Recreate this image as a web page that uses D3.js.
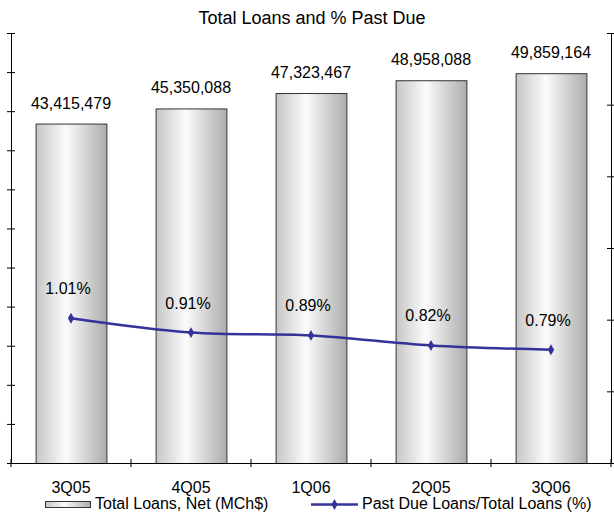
<!DOCTYPE html>
<html>
<head>
<meta charset="utf-8">
<script src="https://cdn.jsdelivr.net/npm/d3@7"></script>
<style>
  html, body { margin: 0; padding: 0; background: #fff; }
  svg { display: block; font-family: "Liberation Sans", Arial, sans-serif; }
</style>
</head>
<body>
<script>
const categories = ["3Q05", "4Q05", "1Q06", "2Q05", "3Q06"];
const totalLoans = [43415479, 45350088, 47323467, 48958088, 49859164];
const pastDuePct = [1.01, 0.91, 0.89, 0.82, 0.79];
const loanLabels = ["43,415,479", "45,350,088", "47,323,467", "48,958,088", "49,859,164"];
const pctLabels = ["1.01%", "0.91%", "0.89%", "0.82%", "0.79%"];
const leftTicks = d3.range(0, 55000001, 5000000);
const rightTicks = [0, 0.5, 1, 1.5, 2, 2.5, 3];
const title = "Total Loans and % Past Due";
const legendBar = "Total Loans, Net (MCh$)";
const legendLine = "Past Due Loans/Total Loans (%)";

const W = 614, H = 519;
const pL = 11, pR = 611, pT = 33, pB = 463;

const svg = d3.select("body").append("svg").attr("width", W).attr("height", H);

const defs = svg.append("defs");
const grad = defs.append("linearGradient").attr("id", "barGrad")
  .attr("x1", "0%").attr("x2", "100%").attr("y1", "0%").attr("y2", "0%");
grad.append("stop").attr("offset", "0%").attr("stop-color", "#c6c6c6");
grad.append("stop").attr("offset", "42%").attr("stop-color", "#fbfbfb");
grad.append("stop").attr("offset", "100%").attr("stop-color", "#acacac");

const x = d3.scaleBand().domain(categories).range([pL, pR])
  .paddingInner(0.41).paddingOuter(0.205);
const xOuter = d3.scaleBand().domain(categories).range([pL, pR]);
const yL = d3.scaleLinear().domain([0, 55000000]).range([pB, pT]);
const yR = d3.scaleLinear().domain([0, 3]).range([pB, pT]);

// title
svg.append("text").attr("x", 312).attr("y", 24).attr("text-anchor", "middle")
  .attr("font-size", 18).attr("fill", "#000").text(title);

// bars
svg.append("g").selectAll("rect").data(totalLoans).join("rect")
  .attr("x", (d, i) => x(categories[i]) + 0.5)
  .attr("y", d => yL(d) + 0.5)
  .attr("width", x.bandwidth())
  .attr("height", d => pB - yL(d))
  .attr("fill", "url(#barGrad)")
  .attr("stroke", "#333").attr("stroke-width", 1);

// bar labels
svg.append("g").selectAll("text").data(totalLoans).join("text")
  .attr("x", (d, i) => x(categories[i]) + x.bandwidth() / 2)
  .attr("y", d => yL(d) - 15)
  .attr("text-anchor", "middle").attr("font-size", 16).attr("fill", "#000")
  .text((d, i) => loanLabels[i]);

// left axis
const gL = svg.append("g").attr("transform", `translate(${pL},0)`)
  .call(d3.axisLeft(yL).tickValues(leftTicks).tickSize(4).tickFormat(""));
gL.selectAll(".tick line").attr("x2", 4).attr("x1", -4);
// right axis
const gR = svg.append("g").attr("transform", `translate(${pR},0)`)
  .call(d3.axisRight(yR).tickValues(rightTicks).tickSize(4).tickFormat(""));
gR.selectAll(".tick line").attr("x1", -4).attr("x2", 3);
// bottom axis
const bounds = categories.map(c => xOuter(c)).concat([pR]);
const gB = svg.append("g").attr("transform", `translate(0,${pB})`)
  .call(d3.axisBottom(xOuter).tickSize(0).tickFormat(""));
gB.selectAll(".tick").remove();
gB.selectAll("line.bt").data(bounds).join("line").attr("class", "bt")
  .attr("x1", d => d).attr("x2", d => d).attr("y1", -4).attr("y2", 4)
  .attr("stroke", "#000");
[gL, gR, gB].forEach(g => { g.select(".domain").attr("stroke", "#000"); g.selectAll("line").attr("stroke", "#000"); });

// category labels
svg.append("g").selectAll("text").data(categories).join("text")
  .attr("x", d => xOuter(d) + xOuter.bandwidth() / 2)
  .attr("y", 493)
  .attr("text-anchor", "middle").attr("font-size", 16).attr("fill", "#000")
  .text(d => d);

// line
const pts = pastDuePct.map((v, i) => [x(categories[i]) + x.bandwidth() / 2, yR(v)]);
svg.append("path").datum(pts)
  .attr("d", d3.line().curve(d3.curveCatmullRom.alpha(0.5)))
  .attr("fill", "none").attr("stroke", "#333399").attr("stroke-width", 2.5);
const diamond = d3.symbol().type(d3.symbolDiamond).size(34);
svg.append("g").selectAll("path").data(pts).join("path")
  .attr("transform", d => `translate(${d[0]},${d[1]})`)
  .attr("d", diamond).attr("fill", "#333399");

// pct labels
svg.append("g").selectAll("text").data(pastDuePct).join("text")
  .attr("x", (d, i) => pts[i][0] - 3)
  .attr("y", d => yR(d) - 24)
  .attr("text-anchor", "middle").attr("font-size", 16).attr("fill", "#000")
  .text((d, i) => pctLabels[i]);

// legend
const lg = svg.append("g");
lg.append("rect").attr("x", 45.5).attr("y", 501.5).attr("width", 45).attr("height", 6)
  .attr("fill", "url(#barGrad)").attr("stroke", "#333");
lg.append("text").attr("x", 95).attr("y", 509).attr("font-size", 16).attr("fill", "#000").text(legendBar);
lg.append("line").attr("x1", 311).attr("x2", 358).attr("y1", 504.5).attr("y2", 504.5)
  .attr("stroke", "#333399").attr("stroke-width", 2.5);
lg.append("path").attr("transform", "translate(334.5,504.5)").attr("d", diamond).attr("fill", "#333399");
lg.append("text").attr("x", 362).attr("y", 509).attr("font-size", 16).attr("fill", "#000").text(legendLine);
</script>
</body>
</html>
